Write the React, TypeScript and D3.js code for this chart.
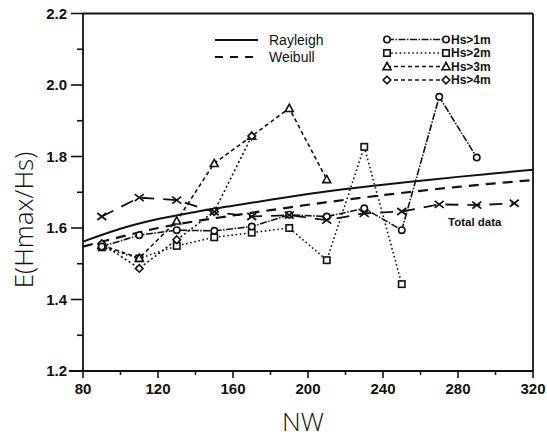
import React from "react";
import * as d3 from "d3";

const curveNW = [80, 100, 120, 140, 160, 180, 200, 220, 240, 260, 280, 300, 320];
const rayleighValues = [1.562, 1.598, 1.625, 1.645, 1.662, 1.679, 1.695, 1.709, 1.721, 1.732, 1.743, 1.753, 1.763];
const weibullValues = [1.548, 1.575, 1.600, 1.619, 1.635, 1.650, 1.665, 1.679, 1.692, 1.704, 1.715, 1.725, 1.734];

const hs1NW = [90, 110, 130, 150, 170, 190, 210, 230, 250, 270, 290];
const hs1Values = [1.548, 1.580, 1.594, 1.592, 1.604, 1.637, 1.632, 1.655, 1.594, 1.967, 1.797];

const hs2NW = [90, 110, 130, 150, 170, 190, 210, 230, 250];
const hs2Values = [1.546, 1.515, 1.550, 1.574, 1.587, 1.600, 1.510, 1.827, 1.443];

const hs3NW = [90, 110, 130, 150, 170, 190, 210];
const hs3Values = [1.552, 1.516, 1.620, 1.781, 1.857, 1.935, 1.736];

const hs4NW = [90, 110, 130, 150, 170];
const hs4Values = [1.556, 1.487, 1.567, 1.646, 1.857];

const totalNW = [90, 110, 130, 150, 170, 190, 210, 230, 250, 270, 290, 310];
const totalValues = [1.632, 1.685, 1.678, 1.645, 1.632, 1.636, 1.622, 1.641, 1.646, 1.666, 1.664, 1.669];

const xMajor = [80, 120, 160, 200, 240, 280, 320];
const xMinor = [100, 140, 180, 220, 260, 300];
const yMajor = [1.2, 1.4, 1.6, 1.8, 2.0, 2.2];
const yMinor = [1.3, 1.5, 1.7, 1.9, 2.1];

const legendHs = ["Hs>1m", "Hs>2m", "Hs>3m", "Hs>4m"];

type Shape = "circle" | "square" | "triangle" | "diamond" | "x";

function Marker({ shape, x, y }: { shape: Shape; x: number; y: number }) {
  const s = 3.2;
  const common = { fill: "white", stroke: "#111", strokeWidth: 1.6 };
  if (shape === "circle") return <circle cx={x} cy={y} r={s} {...common} />;
  if (shape === "square") return <rect x={x - s} y={y - s} width={2 * s} height={2 * s} {...common} />;
  if (shape === "triangle")
    return <path d={`M${x},${y - s - 0.8}L${x + s + 0.8},${y + s}L${x - s - 0.8},${y + s}Z`} {...common} />;
  if (shape === "diamond")
    return <path d={`M${x},${y - s - 0.6}L${x + s + 0.6},${y}L${x},${y + s + 0.6}L${x - s - 0.6},${y}Z`} {...common} />;
  return (
    <path
      d={`M${x - 4.5},${y - 3.5}L${x + 4.5},${y + 3.5}M${x - 4.5},${y + 3.5}L${x + 4.5},${y - 3.5}`}
      stroke="#111"
      strokeWidth={1.8}
      fill="none"
    />
  );
}

export default function App() {
  const W = 547;
  const H = 442;
  const x = d3.scaleLinear().domain([80, 320]).range([83, 533]);
  const y = d3.scaleLinear().domain([1.2, 2.2]).range([371, 13.5]);

  const curveLine = (xs: number[], ys: number[]) =>
    d3
      .line<number>()
      .x((_, i) => x(xs[i]))
      .y((d) => y(d))
      .curve(d3.curveMonotoneX)(ys) || "";
  const polyLine = (xs: number[], ys: number[]) =>
    d3
      .line<number>()
      .x((_, i) => x(xs[i]))
      .y((d) => y(d))(ys) || "";

  const series: { nw: number[]; v: number[]; shape: Shape; dash: string; width: number }[] = [
    { nw: hs2NW, v: hs2Values, shape: "square", dash: "1.6,2.6", width: 1.6 },
    { nw: hs3NW, v: hs3Values, shape: "triangle", dash: "4,3", width: 1.6 },
    { nw: hs4NW, v: hs4Values, shape: "diamond", dash: "2,2.6", width: 1.6 },
    { nw: hs1NW, v: hs1Values, shape: "circle", dash: "7,1.5,1.5,1.5", width: 1.6 },
    { nw: totalNW, v: totalValues, shape: "x", dash: "13,9", width: 1.8 },
  ];

  const font = "'Liberation Sans', Arial, sans-serif";
  const legendShapes: Shape[] = ["circle", "square", "triangle", "diamond"];
  const legendDash = ["7,1.5,1.5,1.5", "1.6,2.6", "4,3", "4,3"];

  return (
    <svg
      width={W}
      height={H}
      style={{ position: "absolute", left: 0, top: 0, background: "white" }}
      fontFamily={font}
    >
      <rect x={0} y={0} width={W} height={H} fill="white" />
      {/* frame */}
      <line x1={x(80)} x2={x(320)} y1={y(2.2)} y2={y(2.2)} stroke="#111" strokeWidth={1.8} />
      <line x1={x(320)} x2={x(320)} y1={y(2.2)} y2={y(1.2)} stroke="#111" strokeWidth={1.8} />
      <line x1={x(80)} x2={x(80)} y1={y(2.2)} y2={y(1.2)} stroke="#111" strokeWidth={1.8} />
      <line x1={x(80) - 14} x2={x(320)} y1={y(1.2)} y2={y(1.2)} stroke="#111" strokeWidth={1.8} />
      {/* y ticks */}
      {yMajor.map((t) => (
        <g key={"ym" + t}>
          <line x1={x(80) - 12} x2={x(80)} y1={y(t)} y2={y(t)} stroke="#111" strokeWidth={1.6} />
          <text x={67} y={y(t)} dy="0.35em" textAnchor="end" fontSize={15} fontWeight={700} fill="#111">
            {t.toFixed(1)}
          </text>
        </g>
      ))}
      {yMinor.map((t) => (
        <line key={"yn" + t} x1={x(80) - 6} x2={x(80)} y1={y(t)} y2={y(t)} stroke="#111" strokeWidth={1.6} />
      ))}
      {/* x ticks */}
      {xMajor.map((t) => (
        <g key={"xm" + t}>
          <line x1={x(t)} x2={x(t)} y1={y(1.2)} y2={y(1.2) + 7} stroke="#111" strokeWidth={1.6} />
          <text x={x(t)} y={389} dy="0.35em" textAnchor="middle" fontSize={15} fontWeight={700} fill="#111">
            {t}
          </text>
        </g>
      ))}
      {xMinor.map((t) => (
        <line key={"xn" + t} x1={x(t)} x2={x(t)} y1={y(1.2)} y2={y(1.2) + 4} stroke="#111" strokeWidth={1.6} />
      ))}
      {/* axis titles */}
      <text x={303} y={431} textAnchor="middle" fontSize={26} fontFamily="'Open Sans', sans-serif" fontWeight={300} fill="#111">
        NW
      </text>
      <text
        transform={`translate(24,220) rotate(-90)`}
        dy="0.35em"
        textAnchor="middle"
        fontSize={26}
        fontFamily="'Open Sans', sans-serif"
        fontWeight={300}
        fill="#111"
      >
        E(Hmax/Hs)
      </text>
      {/* theoretical curves */}
      <path d={curveLine(curveNW, rayleighValues)} fill="none" stroke="#111" strokeWidth={2} />
      <path d={curveLine(curveNW, weibullValues)} fill="none" stroke="#111" strokeWidth={2.2} strokeDasharray="10,7" />
      {/* data series */}
      {series.map((s, i) => (
        <path key={"l" + i} d={polyLine(s.nw, s.v)} fill="none" stroke="#111" strokeWidth={s.width} strokeDasharray={s.dash} />
      ))}
      {series.map((s, i) =>
        s.nw.map((n, j) => <Marker key={"m" + i + "-" + j} shape={s.shape} x={x(n)} y={y(s.v[j])} />)
      )}
      <text x={448} y={222} dy="0.35em" fontSize={11.5} fontWeight={700} fill="#111">
        Total data
      </text>
      {/* legend left */}
      <line x1={215} x2={258} y1={40} y2={40} stroke="#111" strokeWidth={2} />
      <text x={269} y={40} dy="0.35em" fontSize={14} fill="#111">Rayleigh</text>
      <line x1={215} x2={258} y1={57} y2={57} stroke="#111" strokeWidth={2.2} strokeDasharray="8,7" />
      <text x={269} y={57} dy="0.35em" fontSize={14} fill="#111">Weibull</text>
      {/* legend right */}
      {legendHs.map((lab, i) => {
        const ly = 39.5 + i * 13.5;
        return (
          <g key={lab}>
            <line x1={387} x2={444} y1={ly} y2={ly} stroke="#111" strokeWidth={1.5} strokeDasharray={legendDash[i]} />
            <Marker shape={legendShapes[i]} x={387} y={ly} />
            <Marker shape={legendShapes[i]} x={446} y={ly} />
            <text x={451} y={ly} dy="0.35em" fontSize={12} fontWeight={700} fill="#111">
              {lab}
            </text>
          </g>
        );
      })}
    </svg>
  );
}
